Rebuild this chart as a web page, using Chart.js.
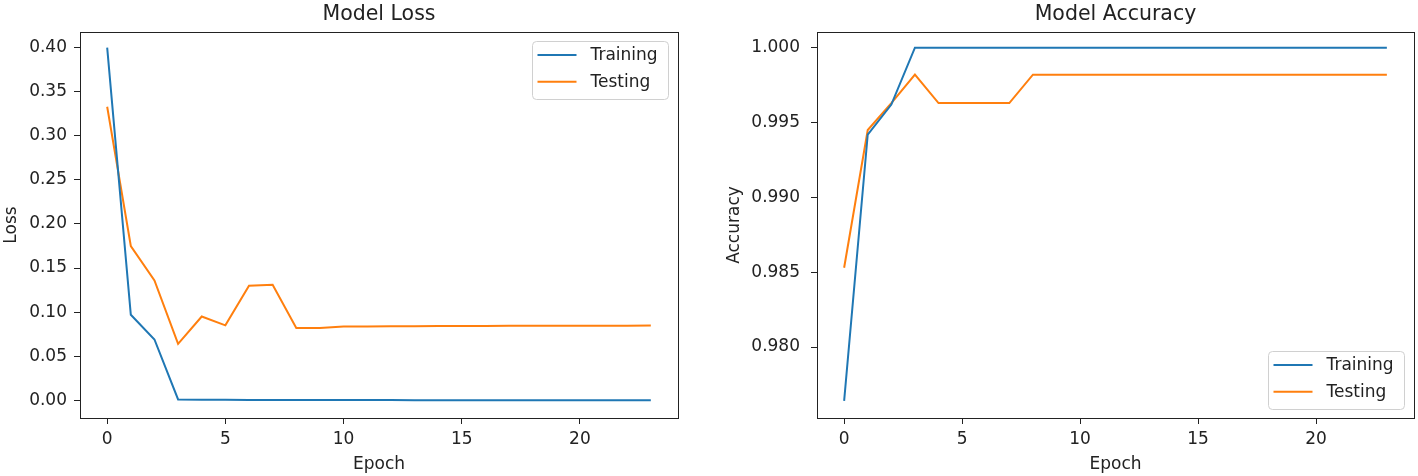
<!DOCTYPE html>
<html>
<head>
<meta charset="utf-8">
<script src="https://cdn.jsdelivr.net/npm/chart.js@4"></script>
<style>
  html, body { margin: 0; padding: 0; background: #fff; }
  body { width: 1418px; height: 476px; position: relative; overflow: hidden; }
  .panel { position: absolute; top: 0; height: 476px; }
  #loss-panel { left: 0; width: 700px; }
  #acc-panel { left: 700px; width: 718px; }
</style>
</head>
<body>
<div class="panel" id="loss-panel"><canvas id="lossChart" width="700" height="476"></canvas></div>
<div class="panel" id="acc-panel"><canvas id="accChart" width="718" height="476"></canvas></div>
<script>
// data
const epochs = [0, 1, 2, 3, 4, 5, 6, 7, 8, 9, 10, 11, 12, 13, 14, 15, 16, 17, 18, 19, 20, 21, 22, 23];
const trainLoss = [0.400, 0.097, 0.069, 0.001, 0.0006, 0.0005, 0.0004, 0.0003, 0.0003, 0.0002, 0.0002, 0.0002,
                   0.0002, 0.0001, 0.0001, 0.0001, 0.0001, 0.0001, 0.0001, 0.0001, 0.0001, 0.0001, 0.0001, 0.0001];
const testLoss = [0.333, 0.175, 0.136, 0.064, 0.095, 0.085, 0.130, 0.131, 0.082, 0.082, 0.0836, 0.0838,
                  0.0840, 0.0841, 0.0842, 0.0843, 0.0844, 0.0845, 0.0845, 0.0845, 0.0846, 0.0846, 0.0846, 0.0847];
const trainAcc = [0.9764, 0.9942, 0.9962, 1.0, 1.0, 1.0, 1.0, 1.0, 1.0, 1.0, 1.0, 1.0,
                  1.0, 1.0, 1.0, 1.0, 1.0, 1.0, 1.0, 1.0, 1.0, 1.0, 1.0, 1.0];
const testAcc = [0.9853, 0.9945, 0.9963, 0.9982, 0.9963, 0.9963, 0.9963, 0.9963, 0.9982, 0.9982, 0.9982, 0.9982,
                 0.9982, 0.9982, 0.9982, 0.9982, 0.9982, 0.9982, 0.9982, 0.9982, 0.9982, 0.9982, 0.9982, 0.9982];
const xTicks = [0, 5, 10, 15, 20];
const lossTicks = [0.00, 0.05, 0.10, 0.15, 0.20, 0.25, 0.30, 0.35, 0.40];
const accTicks = [0.980, 0.985, 0.990, 0.995, 1.000];
const seriesNames = ['Training', 'Testing'];

const BLUE = '#1f77b4';
const ORANGE = '#ff7f0e';
const INK = '#222';

Chart.defaults.font.family = "'DejaVu Sans', sans-serif";
Chart.defaults.color = INK;

// axes frame + matplotlib style legend inside the plot area
const framePlugin = {
    id: 'frame',
    afterDraw(chart, args, opts) {
        const { ctx, chartArea: a } = chart;
        ctx.save();
        ctx.strokeStyle = INK;
        ctx.lineWidth = 1;
        ctx.strokeRect(Math.round(a.left) + 0.5, Math.round(a.top) + 0.5,
            Math.round(a.right - a.left), Math.round(a.bottom - a.top));

        const w = 136, h = 58;
        const bx = Math.round(a.right - 10 - w) + 0.5;
        const by = Math.round(opts.corner === 'top' ? a.top + 9 : a.bottom - 9 - h) + 0.5;
        ctx.beginPath();
        ctx.roundRect(bx, by, w, h, 4);
        ctx.fillStyle = 'rgba(255,255,255,0.8)';
        ctx.fill();
        ctx.strokeStyle = '#d0d0d0';
        ctx.stroke();

        chart.data.datasets.forEach((ds, i) => {
            const y = by + 13.5 + i * 26.8;
            ctx.beginPath();
            ctx.moveTo(bx + 5, y);
            ctx.lineTo(bx + 44, y);
            ctx.strokeStyle = ds.borderColor;
            ctx.lineWidth = 2;
            ctx.stroke();
            ctx.fillStyle = INK;
            ctx.font = "17px 'DejaVu Sans', sans-serif";
            ctx.textBaseline = 'middle';
            ctx.textAlign = 'left';
            ctx.fillText(ds.label, bx + 58, y + 1);
        });
        ctx.restore();
    }
};

function makeChart(id, cfg) {
    const toPoints = arr => arr.map((v, i) => ({ x: epochs[i], y: v }));
    return new Chart(document.getElementById(id), {
        type: 'line',
        data: {
            datasets: [
                { label: seriesNames[0], data: toPoints(cfg.train), borderColor: BLUE },
                { label: seriesNames[1], data: toPoints(cfg.test), borderColor: ORANGE }
            ]
        },
        options: {
            responsive: false,
            animation: false,
            devicePixelRatio: 1,
            layout: { padding: { left: 0, right: cfg.padRight, top: 0, bottom: 0 } },
            elements: {
                line: { borderWidth: 2, tension: 0, fill: false },
                point: { radius: 0, hoverRadius: 0 }
            },
            plugins: {
                legend: { display: false },
                tooltip: { enabled: false },
                title: {
                    display: true,
                    text: cfg.title,
                    fullSize: false,
                    color: INK,
                    font: { size: 20.5, weight: 'normal' },
                    padding: { top: 2, bottom: 5.4 }
                },
                frame: { corner: cfg.legendCorner }
            },
            scales: {
                x: {
                    type: 'linear',
                    min: -1.15,
                    max: 24.15,
                    afterBuildTicks: s => { s.ticks = xTicks.map(v => ({ value: v })); },
                    afterFit: s => { s.height = 58; },
                    grid: { drawOnChartArea: false, drawTicks: true, tickLength: 6, color: INK },
                    border: { display: false },
                    ticks: { font: { size: 17 }, color: INK, padding: 5, maxRotation: 0 },
                    title: { display: true, text: 'Epoch', font: { size: 17 }, color: INK, padding: { top: 0, bottom: 1 } }
                },
                y: {
                    type: 'linear',
                    min: cfg.yMin,
                    max: cfg.yMax,
                    afterBuildTicks: s => { s.ticks = cfg.yTicks.map(v => ({ value: v })); },
                    afterFit: s => { s.width = cfg.yWidth; },
                    grid: { drawOnChartArea: false, drawTicks: true, tickLength: 6, color: INK },
                    border: { display: false },
                    ticks: {
                        font: { size: 17 }, color: INK, padding: cfg.tickPad,
                        callback: v => v.toFixed(cfg.digits)
                    },
                    title: { display: true, text: cfg.yLabel, font: { size: 17 }, color: INK, padding: { top: cfg.titlePad, bottom: 0 } }
                }
            }
        },
        plugins: [framePlugin]
    });
}

makeChart('lossChart', {
    title: 'Model Loss', yLabel: 'Loss',
    train: trainLoss, test: testLoss,
    yMin: -0.0201, yMax: 0.4178, yTicks: lossTicks, digits: 2,
    yWidth: 80, padRight: 22, tickPad: 7, titlePad: 1, legendCorner: 'top'
});

makeChart('accChart', {
    title: 'Model Accuracy', yLabel: 'Accuracy',
    train: trainAcc, test: testAcc,
    yMin: 0.97526, yMax: 1.00105, yTicks: accTicks, digits: 3,
    yWidth: 117, padRight: 4, tickPad: 11, titlePad: 24, legendCorner: 'bottom'
});
</script>
</body>
</html>
